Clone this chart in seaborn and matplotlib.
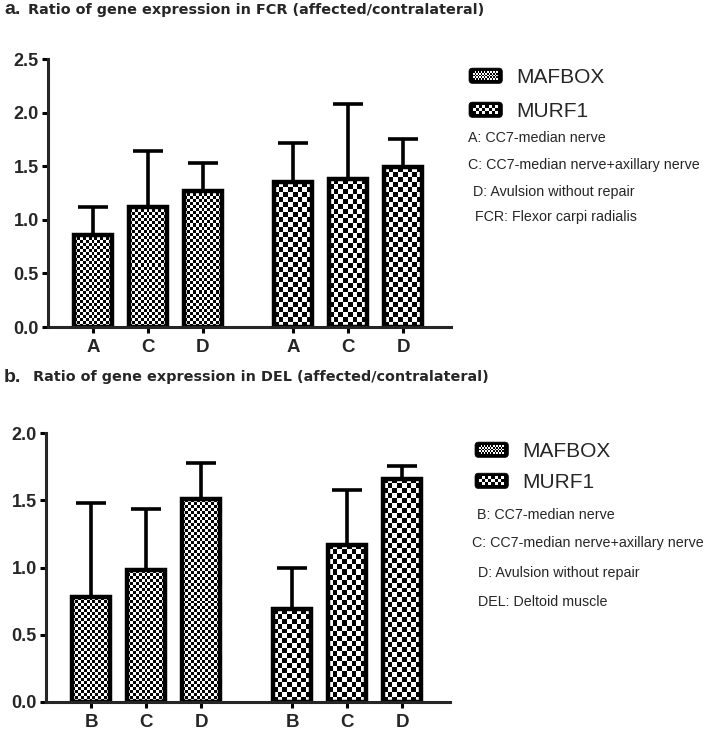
import numpy as np
import pandas as pd
import matplotlib
matplotlib.use("Agg")
import matplotlib.pyplot as plt
import seaborn as sns
from matplotlib.legend_handler import HandlerBase
from matplotlib.patches import FancyBboxPatch, Patch
from matplotlib.image import BboxImage
from matplotlib.transforms import Bbox, TransformedBbox
from matplotlib.colors import Normalize

# ---------------- data ----------------
genes = ["MAFBOX", "MURF1"]

fcr_groups = ["A", "C", "D"]
fcr_mafbox = [0.86, 1.12, 1.27]
fcr_mafbox_sd = [0.26, 0.52, 0.26]
fcr_murf1 = [1.35, 1.38, 1.49]
fcr_murf1_sd = [0.37, 0.70, 0.26]
fcr_notes = ["A: CC7-median nerve", "C: CC7-median nerve+axillary nerve",
             "D: Avulsion without repair", "FCR: Flexor carpi radialis"]
fcr_title = "Ratio of gene expression in FCR (affected/contralateral)"

del_groups = ["B", "C", "D"]
del_mafbox = [0.78, 0.98, 1.51]
del_mafbox_sd = [0.70, 0.46, 0.27]
del_murf1 = [0.69, 1.17, 1.66]
del_murf1_sd = [0.31, 0.41, 0.10]
del_notes = ["B: CC7-median nerve", "C: CC7-median nerve+axillary nerve",
             "D: Avulsion without repair", "DEL: Deltoid muscle"]
del_title = "Ratio of gene expression in DEL (affected/contralateral)"

# bar slots: three per gene, with a gap between the gene groups
slots = [0, 1, 2, 3.65, 4.65, 5.65]

# ---------------- style ----------------
sns.set_style("ticks")
plt.rcParams["font.family"] = ["Liberation Sans", "DejaVu Sans"]

W, H = 709, 732
fig = plt.figure(figsize=(W / 100, H / 100), dpi=100)

CELL = {"MAFBOX": 3.0, "MURF1": 5.0}      # checker cell size in bars (px)
LEG_CELL = {"MAFBOX": 1.6, "MURF1": 3.2}  # checker cell size in legend (px)


def checker(nx, ny):
    iy, ix = np.indices((max(ny, 1), max(nx, 1)))
    return ((ix + iy) % 2).astype(float)


class CheckerHandler(HandlerBase):
    def __init__(self, cell):
        super().__init__()
        self.cell = cell

    def create_artists(self, legend, orig_handle, xdescent, ydescent,
                       width, height, fontsize, trans):
        box = FancyBboxPatch((-xdescent, -ydescent), width, height,
                             boxstyle="round,pad=0,rounding_size=2.5",
                             fc="black", ec="black", lw=0.5, transform=trans)
        ins = 3.0
        inner = Bbox.from_bounds(-xdescent + ins, -ydescent + ins * 0.8,
                                 width - 2 * ins, height - 1.6 * ins)
        nx = int(round((width - 2 * ins) / (self.cell * 0.72)))
        ny = int(round((height - 1.6 * ins) / (self.cell * 0.72)))
        img = BboxImage(TransformedBbox(inner, trans), data=checker(nx, ny),
                        cmap="gray", norm=Normalize(0, 1),
                        interpolation="nearest")
        return [box, img]


def panel(ax, groups, maf, maf_sd, murf, murf_sd, ymax, legend_anchor,
          spacing, notes, note_xy):
    df = pd.DataFrame({
        "slot": slots,
        "value": maf + murf,
        "sd": maf_sd + murf_sd,
        "gene": [genes[0]] * len(maf) + [genes[1]] * len(murf),
        "label": groups + groups,
    })
    sns.barplot(data=df, x="slot", y="value", native_scale=True, width=0.69,
                color="white", edgecolor="black", linewidth=3.2,
                errorbar=None, ax=ax, zorder=1)
    ax.errorbar(df["slot"], df["value"],
                yerr=[np.zeros(len(df)), df["sd"]], fmt="none",
                ecolor="black", elinewidth=2.6, capsize=11, capthick=2.6,
                zorder=0.8)
    ax.set_xlim(-0.82, 6.52)
    ax.set_ylim(0, ymax)
    ax.set_yticks(np.arange(0, ymax + 0.01, 0.5))
    ax.set_yticklabels([f"{v:.1f}" for v in np.arange(0, ymax + 0.01, 0.5)])
    ax.set_xticks(df["slot"])
    ax.set_xticklabels(df["label"])
    ax.set_xlabel("")
    ax.set_ylabel("")
    sns.despine(ax=ax)
    for s in ("left", "bottom"):
        ax.spines[s].set_linewidth(2.2)
    ax.tick_params(axis="both", width=2.2, length=4.5, color="black")
    ax.tick_params(axis="y", labelsize=13, pad=2)
    ax.tick_params(axis="x", labelsize=13.5, pad=4)
    for t in ax.get_yticklabels() + ax.get_xticklabels():
        t.set_fontweight("bold")

    # checkerboard fill for each bar, clipped to the bar outline
    xl, yl = ax.get_xlim(), ax.get_ylim()
    slot_arr = np.array(slots)
    for p in list(ax.patches):
        cx = p.get_x() + p.get_width() / 2
        i = int(np.argmin(np.abs(slot_arr - cx)))
        gene = df["gene"][i]
        x0, y0 = p.get_x(), p.get_y()
        x1, y1 = x0 + p.get_width(), y0 + p.get_height()
        (px0, py0), (px1, py1) = ax.transData.transform([(x0, y0), (x1, y1)])
        nx = int(round((px1 - px0) / CELL[gene]))
        ny = int(round((py1 - py0) / CELL[gene]))
        p.set_facecolor("none")
        ax.imshow(checker(nx, ny), extent=(x0, x1, y0, y1), origin="lower",
                  cmap="gray", vmin=0, vmax=1, interpolation="nearest",
                  aspect="auto", clip_path=p, zorder=0.5)
    ax.set_xlim(xl)
    ax.set_ylim(yl)

    handles = [Patch(label=g) for g in genes]
    ax.legend(handles=handles, labels=genes,
              handler_map={handles[0]: CheckerHandler(LEG_CELL["MAFBOX"]),
                           handles[1]: CheckerHandler(LEG_CELL["MURF1"])},
              loc="upper left", bbox_to_anchor=legend_anchor,
              bbox_transform=fig.transFigure, frameon=False, fontsize=15,
              handlelength=1.6, handleheight=0.75, handletextpad=0.65,
              labelspacing=spacing, borderpad=0, borderaxespad=0)
    for (nx_, ny_), s in zip(note_xy, notes):
        fig.text(nx_ / W, 1 - ny_ / H, s, fontsize=10.3, va="center",
                 ha="left")


ax1 = fig.add_axes([48 / W, 1 - 327 / H, (451 - 48) / W, (327 - 59) / H])
ax2 = fig.add_axes([46 / W, 1 - 702 / H, (450 - 46) / W, (702 - 433.3) / H])

panel(ax1, fcr_groups, fcr_mafbox, fcr_mafbox_sd, fcr_murf1, fcr_murf1_sd,
      2.5, (469 / W, 1 - 68 / H), 0.72, fcr_notes,
      [(468, 138), (468, 165), (473, 192), (475, 217)])
panel(ax2, del_groups, del_mafbox, del_mafbox_sd, del_murf1, del_murf1_sd,
      2.0, (475 / W, 1 - 442 / H), 0.58, del_notes,
      [(477, 515), (472, 543), (478, 573), (478, 602)])

for letter, title, y, xt in (("a.", fcr_title, 10, 28), ("b.", del_title, 377, 33)):
    fig.text(4 / W, 1 - y / H, letter, fontsize=14, fontweight="bold",
             va="center", ha="left")
    fig.text(xt / W, 1 - y / H, title, fontsize=10.4, fontweight="bold",
             va="center", ha="left", family=["DejaVu Sans"])

fig.savefig("out.png", dpi=100)
